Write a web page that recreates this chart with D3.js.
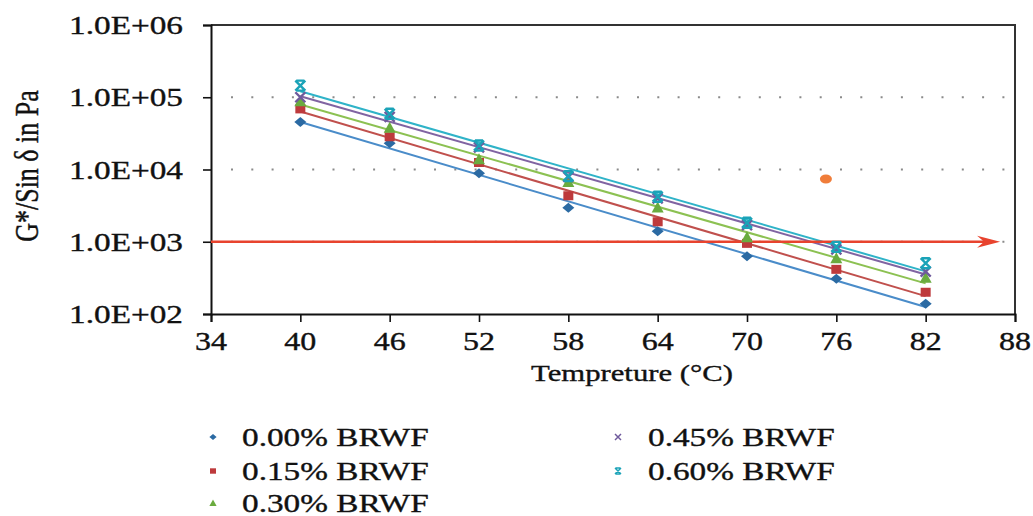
<!DOCTYPE html>
<html>
<head>
<meta charset="utf-8">
<script src="https://cdn.jsdelivr.net/npm/d3@7"></script>
<style>
  html, body { margin: 0; padding: 0; background: #fff; }
  svg { display: block; }
</style>
</head>
<body>
<svg id="chart" width="1033" height="516"></svg>
<script>
// ---------------- data ----------------
const temps = [40, 46, 52, 58, 64, 70, 76, 82];
const s000 = [45300, 23000, 8900, 2950, 1400, 628, 308, 139];
const s015 = [69000, 28400, 12500, 4330, 1890, 950, 415, 200];
const s030 = [88000, 37700, 13900, 6700, 2990, 1150, 590, 318];
const s045 = [100000, 53500, 20200, 7900, 3980, 1700, 785, 385];
const s060 = [145000, 59000, 21500, 8100, 4200, 1830, 850, 505];
const seriesNames = ["0.00% BRWF", "0.15% BRWF", "0.30% BRWF", "0.45% BRWF", "0.60% BRWF"];
const xTicks = [34, 40, 46, 52, 58, 64, 70, 76, 82, 88];
const yTicks = [1e2, 1e3, 1e4, 1e5, 1e6];
const yTickLabels = ["1.0E+02", "1.0E+03", "1.0E+04", "1.0E+05", "1.0E+06"];
const gridValues = [1e3, 1e4, 1e5];
const limitValue = 1000;          // horizontal reference arrow
const limitRange = [34, 87];
const extraPoint = [75.3, 7400];  // orange point
const xTitle = "Tempreture (°C)";
const yTitle = "G*/Sin δ in Pa";

// ---------------- setup ----------------
const svg = d3.select("#chart");
const FONT = "'Liberation Serif', 'Times New Roman', serif";
const SX = 1.28; // horizontal stretch of the reference text
const x = d3.scaleLinear().domain([34, 88]).range([211, 1015]);
const y = d3.scaleLog().domain([100, 1e6]).range([314, 25]);

const styles = [
  { data: s000, mark: "#2b6aa3", line: "#4a8cc9", shape: "diamond" },
  { data: s015, mark: "#be3a3c", line: "#c0504d", shape: "square" },
  { data: s030, mark: "#6aab3f", line: "#8cc152", shape: "triangle" },
  { data: s045, mark: "#6f5a9c", line: "#8064a2", shape: "x" },
  { data: s060, mark: "#1ba3b8", line: "#2fb3c8", shape: "star" }
];

function sText(g, tx, ty, str, size, anchor, rot) {
  return g.append("text")
    .attr("transform", `translate(${tx},${ty}) scale(${SX},1)` + (rot ? ` rotate(${rot})` : ""))
    .attr("text-anchor", anchor)
    .style("font-family", FONT)
    .style("font-size", size + "px")
    .attr("fill", "#111")
    .attr("stroke", "#111").attr("stroke-width", 0.35)
    .text(str);
}

// ---------------- grid ----------------
svg.append("g").selectAll("line").data(gridValues).join("line")
  .attr("x1", x(34) + 20).attr("x2", x(88))
  .attr("y1", d => y(d)).attr("y2", d => y(d))
  .attr("stroke", "#8a8a8a").attr("stroke-width", 2)
  .attr("stroke-dasharray", "2,18.3");

// ---------------- frame ----------------
svg.append("path")
  .attr("d", `M${x(34)},${y(1e6)}H${x(88)}V${y(100)}`)
  .attr("fill", "none").attr("stroke", "#333").attr("stroke-width", 2);

// ---------------- axes ----------------
const gx = svg.append("g").attr("transform", `translate(0,${y(100)})`)
  .call(d3.axisBottom(x).tickValues(xTicks).tickSize(8).tickFormat(""));
const gy = svg.append("g").attr("transform", `translate(${x(34)},0)`)
  .call(d3.axisLeft(y).tickValues(yTicks).tickSize(8).tickFormat(""));
[gx, gy].forEach(g => {
  g.select(".domain").attr("stroke", "#111").attr("stroke-width", 2);
  g.selectAll(".tick line").attr("stroke", "#111").attr("stroke-width", 1.6);
});

const labels = svg.append("g");
xTicks.forEach(v => sText(labels, x(v), 350, String(v), 25, "middle"));
yTicks.forEach((v, i) => sText(labels, 183, y(v) + 9, yTickLabels[i], 26, "end"));
sText(labels, 632, 381, xTitle, 24, "middle");
sText(labels, 38, 166, yTitle, 26, "middle", -90);

// ---------------- trendlines (exponential fit, as in the source) ----------------
function expFit(xs, ys) {
  const ly = ys.map(v => Math.log(v));
  const mx = d3.mean(xs), my = d3.mean(ly);
  let sxy = 0, sxx = 0;
  xs.forEach((v, i) => { sxy += (v - mx) * (ly[i] - my); sxx += (v - mx) * (v - mx); });
  const b = sxy / sxx, a = my - b * mx;
  return t => Math.exp(a + b * t);
}
const lineGen = d3.line().x(d => x(d[0])).y(d => y(d[1]));
const gTrend = svg.append("g");
styles.forEach(s => {
  const f = expFit(temps, s.data);
  const ends = [temps[0], temps[temps.length - 1]].map(t => [t, f(t)]);
  gTrend.append("path").attr("d", lineGen(ends))
    .attr("fill", "none").attr("stroke", s.line).attr("stroke-width", 2);
});

// ---------------- red reference arrow ----------------
const ax0 = x(limitRange[0]), ax1 = x(limitRange[1]), ay = y(limitValue);
svg.append("line")
  .attr("x1", ax0).attr("x2", ax1 - 12).attr("y1", ay).attr("y2", ay)
  .attr("stroke", "#e8432e").attr("stroke-width", 2.6);
svg.append("path")
  .attr("d", `M${ax1},${ay}L${ax1 - 23},${ay - 6}L${ax1 - 16},${ay}L${ax1 - 23},${ay + 6}Z`)
  .attr("fill", "#e8432e");

// ---------------- markers ----------------
function drawMarker(g, shape, cx, cy, color, sc) {
  const t = `translate(${cx},${cy}) scale(${sc})`;
  if (shape === "diamond") {
    g.append("path").attr("d", "M-6,0L0,-5L6,0L0,5Z")
      .attr("transform", t).attr("fill", color);
  } else if (shape === "square") {
    g.append("path").attr("d", "M-5,-4.5H5V4.5H-5Z")
      .attr("transform", t).attr("fill", color);
  } else if (shape === "triangle") {
    g.append("path").attr("d", "M0,-6L6,5H-6Z")
      .attr("transform", t).attr("fill", color);
  } else {
    const r = 5;
    let d = `M${-r},${-r}L${r},${r}M${-r},${r}L${r},${-r}`;
    if (shape === "star") d += `M${-r * 0.8},${-r}H${r * 0.8}M${-r * 0.8},${r}H${r * 0.8}`;
    g.append("path").attr("d", d)
      .attr("transform", t)
      .attr("fill", "none").attr("stroke", color).attr("stroke-width", 2.4);
  }
}
const gMarks = svg.append("g");
styles.forEach(s => {
  s.data.forEach((v, i) => drawMarker(gMarks, s.shape, x(temps[i]), y(v), s.mark, 1));
});

// orange point
svg.append("ellipse")
  .attr("cx", x(extraPoint[0])).attr("cy", y(extraPoint[1]))
  .attr("rx", 6).attr("ry", 4.5).attr("fill", "#f07d3a");

// ---------------- legend ----------------
const legendPos = [
  { mx: 213, tx: 242, cy: 437 },
  { mx: 213, tx: 242, cy: 471 },
  { mx: 213, tx: 242, cy: 503 },
  { mx: 618, tx: 648, cy: 437 },
  { mx: 618, tx: 648, cy: 471 }
];
const gLeg = svg.append("g");
styles.forEach((s, i) => {
  const p = legendPos[i];
  drawMarker(gLeg, s.shape, p.mx, p.cy, s.mark, 0.6);
  sText(gLeg, p.tx, p.cy + 9, seriesNames[i], 26, "start");
});
</script>
</body>
</html>
